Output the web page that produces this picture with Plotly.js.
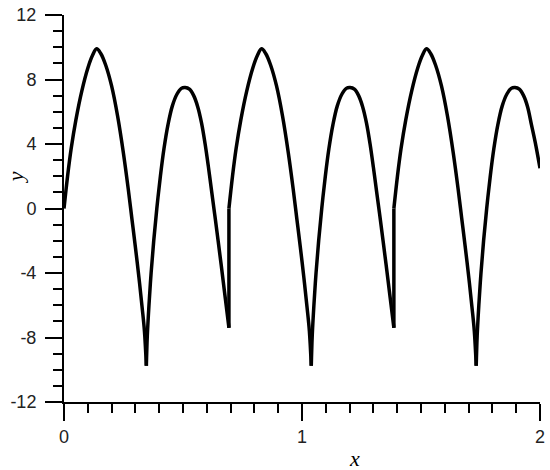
<!DOCTYPE html>
<html>
<head>
<meta charset="utf-8">
<script src="https://cdn.plot.ly/plotly-3.0.1.min.js"></script>
<style>
  html, body { margin: 0; padding: 0; background: #ffffff; }
  #chart { width: 550px; height: 470px; }
</style>
</head>
<body>
<div id="chart"></div>
<script>
// ---- data ----
// period 1, first arch: from x = 0 down to the first cusp
const archAx1 = [0, 0.015, 0.03, 0.05, 0.075, 0.1, 0.12, 0.137, 0.155, 0.175, 0.2, 0.225, 0.25, 0.27, 0.285, 0.3, 0.315, 0.328, 0.338, 0.346];
const archAy1 = [0, 2.0, 3.7, 5.5, 7.3, 8.7, 9.5, 9.9, 9.6, 8.9, 7.6, 5.75, 3.4, 1.2, -0.6, -2.4, -4.3, -6.1, -7.6, -9.75];
// period 1, second arch: from the first cusp to the jump
const archBx1 = [0.346, 0.35, 0.357, 0.366, 0.377, 0.39, 0.405, 0.42, 0.437, 0.455, 0.475, 0.493, 0.509, 0.527, 0.545, 0.562, 0.578, 0.593, 0.607, 0.62, 0.634, 0.648, 0.663, 0.678, 0.693];
const archBy1 = [-9.75, -7.9, -6.0, -4.0, -2.0, 0.0, 2.0, 3.7, 5.2, 6.35, 7.1, 7.45, 7.5, 7.4, 7.0, 6.3, 5.3, 4.0, 2.55, 1.1, -0.45, -2.05, -3.8, -5.6, -7.4];

// period 2
const archAx2 = [0.693, 0.708, 0.723, 0.743, 0.768, 0.793, 0.813, 0.83, 0.848, 0.868, 0.893, 0.918, 0.943, 0.963, 0.978, 0.993, 1.008, 1.021, 1.031, 1.039];
const archAy2 = [0, 2.0, 3.7, 5.5, 7.3, 8.7, 9.5, 9.9, 9.6, 8.9, 7.6, 5.75, 3.4, 1.2, -0.6, -2.4, -4.3, -6.1, -7.6, -9.75];
const archBx2 = [1.039, 1.043, 1.05, 1.059, 1.07, 1.083, 1.098, 1.113, 1.13, 1.148, 1.168, 1.186, 1.202, 1.22, 1.238, 1.255, 1.271, 1.286, 1.3, 1.313, 1.327, 1.341, 1.356, 1.371, 1.386];
const archBy2 = [-9.75, -7.9, -6.0, -4.0, -2.0, 0.0, 2.0, 3.7, 5.2, 6.35, 7.1, 7.45, 7.5, 7.4, 7.0, 6.3, 5.3, 4.0, 2.55, 1.1, -0.45, -2.05, -3.8, -5.6, -7.4];

// period 3 (cut at x = 2)
const archAx3 = [1.386, 1.401, 1.416, 1.436, 1.461, 1.486, 1.506, 1.523, 1.541, 1.561, 1.586, 1.611, 1.636, 1.656, 1.671, 1.686, 1.701, 1.714, 1.724, 1.732];
const archAy3 = [0, 2.0, 3.7, 5.5, 7.3, 8.7, 9.5, 9.9, 9.6, 8.9, 7.6, 5.75, 3.4, 1.2, -0.6, -2.4, -4.3, -6.1, -7.6, -9.75];
const archBx3 = [1.732, 1.736, 1.743, 1.752, 1.763, 1.776, 1.791, 1.806, 1.823, 1.841, 1.861, 1.879, 1.895, 1.913, 1.931, 1.948, 1.964, 1.98, 2.0];
const archBy3 = [-9.75, -7.9, -6.0, -4.0, -2.0, 0.0, 2.0, 3.7, 5.2, 6.35, 7.1, 7.45, 7.5, 7.4, 7.0, 6.3, 5.2, 4.1, 2.5];

// vertical jumps at the end of each period
const jumpX = [0.693, 1.386];
const jumpLow = [-7.4, -7.4];
const jumpHigh = [0, 0];

// tick labels
const xTickVals = [0, 1, 2];
const xTickText = ['0', '1', '2'];
const yTickVals = [-12, -8, -4, 0, 4, 8, 12];
const yTickText = ['-12', '-8', '-4', '0', '4', '8', '12'];

// ---- build one trace, segments separated by gaps ----
const segsX = [archAx1, archBx1, archAx2, archBx2, archAx3, archBx3];
const segsY = [archAy1, archBy1, archAy2, archBy2, archAy3, archBy3];
let X = [], Y = [];
segsX.forEach((sx, i) => {
  X = X.concat(sx, [null]);
  Y = Y.concat(segsY[i], [null]);
});
let JX = [], JY = [];
jumpX.forEach((jx, i) => {
  JX = JX.concat([jx, jx, null]);
  JY = JY.concat([jumpLow[i], jumpHigh[i], null]);
});

const traces = [
  {
    x: X, y: Y, type: 'scatter', mode: 'lines',
    line: { color: '#000000', width: 3.5, shape: 'spline', smoothing: 1 },
    connectgaps: false, hoverinfo: 'skip', showlegend: false
  },
  {
    x: JX, y: JY, type: 'scatter', mode: 'lines',
    line: { color: '#000000', width: 3.5 },
    connectgaps: false, hoverinfo: 'skip', showlegend: false
  }
];

const tickFont = { family: 'Liberation Sans, Arial, sans-serif', size: 18, color: '#222222' };

const layout = {
  width: 550, height: 470,
  margin: { l: 64, r: 10, t: 15, b: 68 },
  paper_bgcolor: '#ffffff', plot_bgcolor: '#ffffff',
  showlegend: false,
  xaxis: {
    range: [0, 2], showgrid: false, zeroline: false,
    showline: true, linecolor: '#000000', linewidth: 2,
    tickmode: 'array', tickvals: xTickVals, ticktext: xTickText,
    ticks: 'outside', ticklen: 17, tickwidth: 2, tickcolor: '#000000',
    tickfont: tickFont,
    minor: { tickmode: 'linear', tick0: 0, dtick: 0.1, ticks: 'outside', ticklen: 9, tickwidth: 2, tickcolor: '#000000', showgrid: false }
  },
  yaxis: {
    range: [-12, 12], showgrid: false, zeroline: false,
    showline: true, linecolor: '#000000', linewidth: 2,
    tickmode: 'array', tickvals: yTickVals, ticktext: yTickText,
    ticks: 'outside', ticklen: 17, tickwidth: 2, tickcolor: '#000000',
    tickfont: tickFont, ticklabelstandoff: 5,
    minor: { tickmode: 'linear', tick0: 0, dtick: 1, ticks: 'outside', ticklen: 9, tickwidth: 2, tickcolor: '#000000', showgrid: false }
  },
  annotations: [
    { text: 'x', xref: 'paper', yref: 'paper', x: 0.611, y: -0.145, xanchor: 'center', yanchor: 'middle', showarrow: false,
      font: { family: 'Liberation Serif, Times New Roman, serif', size: 22, color: '#000000', style: 'italic' } },
    { text: 'y', xref: 'paper', yref: 'paper', x: -0.103, y: 0.581, xanchor: 'center', yanchor: 'middle', showarrow: false, textangle: -90,
      font: { family: 'Liberation Serif, Times New Roman, serif', size: 22, color: '#000000', style: 'italic' } }
  ]
};

Plotly.newPlot('chart', traces, layout, { staticPlot: true, displayModeBar: false });
</script>
</body>
</html>
